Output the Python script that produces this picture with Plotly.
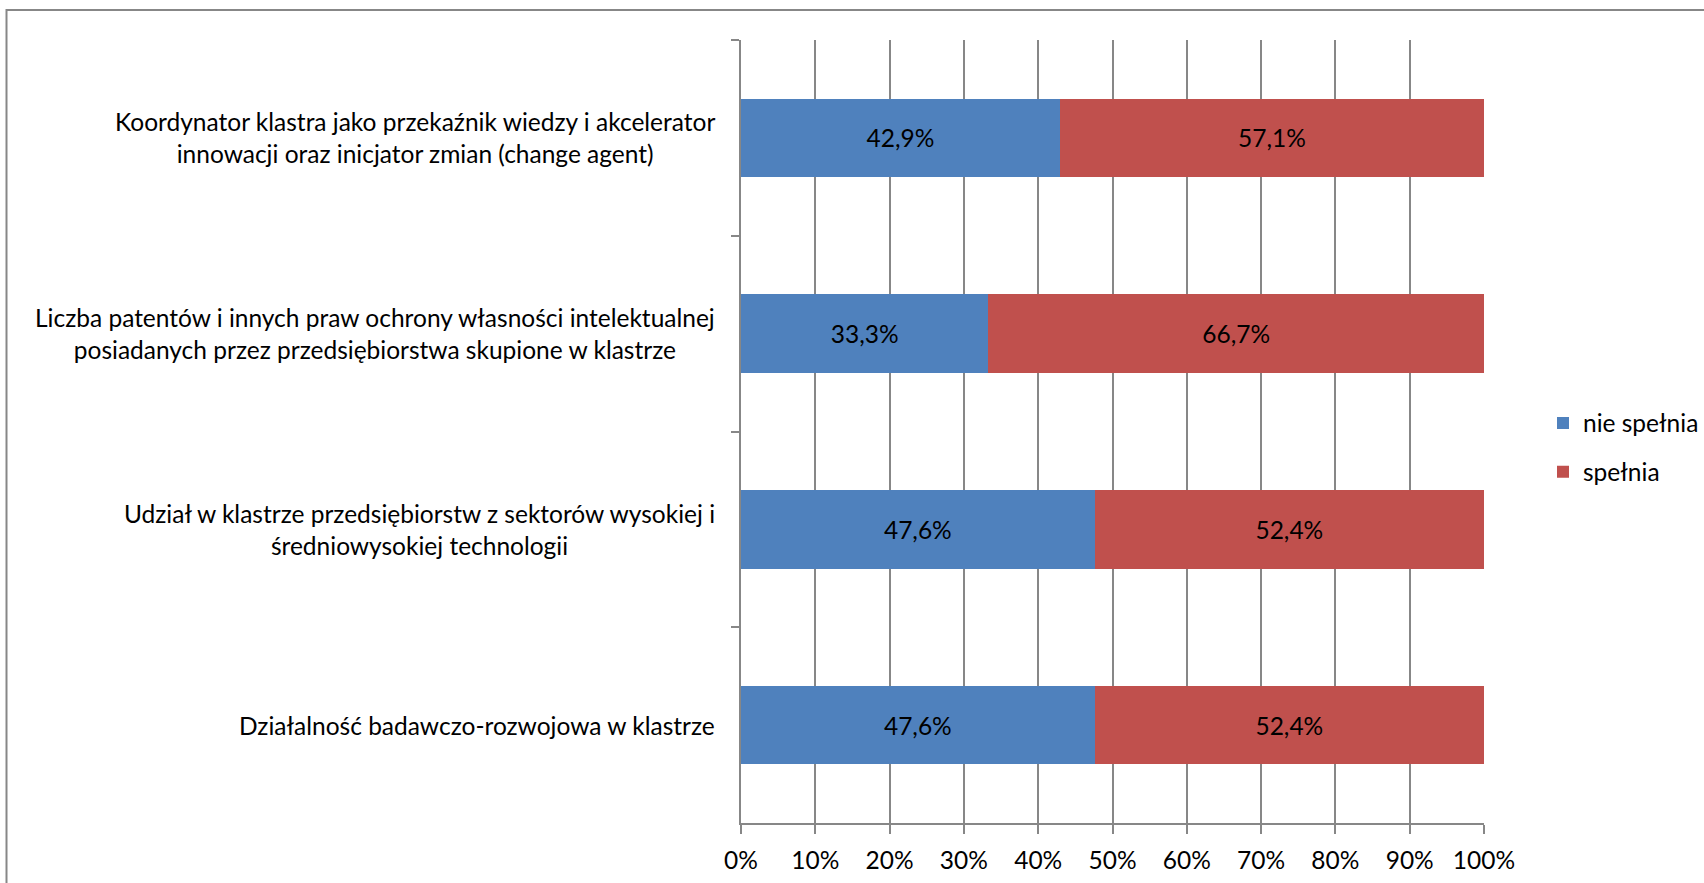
import plotly.graph_objects as go

# Kryteria (od góry do dołu) i udziały procentowe
categories = [
    "Koordynator klastra jako przekaźnik wiedzy i akcelerator<br>innowacji oraz inicjator zmian (change agent)",
    "Liczba patentów i innych praw ochrony własności intelektualnej<br>posiadanych przez przedsiębiorstwa skupione w klastrze",
    "Udział w klastrze przedsiębiorstw z sektorów wysokiej i<br>średniowysokiej technologii",
    "Działalność badawczo-rozwojowa w klastrze",
]
nie_spelnia = [42.9, 33.3, 47.6, 47.6]
spelnia = [57.1, 66.7, 52.4, 52.4]
x_ticks = [0, 10, 20, 30, 40, 50, 60, 70, 80, 90, 100]
x_tick_labels = ["0%", "10%", "20%", "30%", "40%", "50%", "60%", "70%", "80%", "90%", "100%"]

FONT = "Lato, 'Open Sans', sans-serif"
FS = 24.5
GRID = "#878787"

W, H = 1704, 883
L, R, T, B = 741, 220, 40, 60
PW, PH = W - L - R, H - T - B


def fmt(v):
    return f"{v:.1f}%".replace(".", ",")


fig = go.Figure()
fig.add_trace(go.Bar(
    y=categories, x=nie_spelnia, orientation="h", name="nie spełnia",
    marker=dict(color="#4F81BD", line=dict(width=0)),
    text=[fmt(v) for v in nie_spelnia], textposition="inside",
    insidetextanchor="middle", constraintext="none",
    textfont=dict(family=FONT, size=FS, color="#000000"),
    legendgroup="a", hoverinfo="skip",
))
fig.add_trace(go.Bar(
    y=categories, x=spelnia, orientation="h", name="spełnia",
    marker=dict(color="#C0504D", line=dict(width=0)),
    text=[fmt(v) for v in spelnia], textposition="inside",
    insidetextanchor="middle", constraintext="none",
    textfont=dict(family=FONT, size=FS, color="#000000"),
    legendgroup="b", hoverinfo="skip",
))

# Etykiety kategorii wyśrodkowane wierszami, wyrównane do osi
for c in categories:
    fig.add_annotation(
        x=0, xref="paper", y=c, yref="y", xanchor="right", yanchor="middle",
        xshift=-24, text=c, align="center", showarrow=False,
        font=dict(family=FONT, size=FS, color="#000000"),
    )

# Ramka obszaru wykresu
fig.add_shape(
    type="rect", xref="paper", yref="paper",
    x0=(6.5 - L) / PW, x1=(W + 20 - L) / PW,
    y0=(H - B - (H + 20)) / PH, y1=(H - B - 10) / PH,
    line=dict(color=GRID, width=2), fillcolor="rgba(0,0,0,0)", layer="below",
)

fig.update_layout(
    width=W, height=H, barmode="stack", bargap=0.6,
    margin=dict(l=L, r=R, t=T, b=B, pad=0, autoexpand=False),
    paper_bgcolor="white", plot_bgcolor="white",
    font=dict(family=FONT, size=FS, color="#000000"),
    showlegend=True,
    legend=dict(
        xref="container", yref="container",
        x=1543 / W, xanchor="left", y=1 - 400.5 / H, yanchor="top",
        traceorder="grouped", tracegroupgap=14, itemwidth=30,
        font=dict(family=FONT, size=FS, color="#000000"),
        bgcolor="rgba(0,0,0,0)",
    ),
    xaxis=dict(
        range=[0, 100], tickmode="array", tickvals=x_ticks, ticktext=x_tick_labels,
        showgrid=True, gridcolor=GRID, gridwidth=1.5,
        ticks="outside", ticklen=9, tickcolor=GRID, tickwidth=1.5,
        ticklabelstandoff=6,
        showline=True, linecolor=GRID, linewidth=1.5, zeroline=False,
        tickfont=dict(family=FONT, size=FS, color="#000000"),
        fixedrange=True,
    ),
    yaxis=dict(
        categoryorder="array", categoryarray=categories,
        range=[3.5, -0.5], showticklabels=False,
        tickson="boundaries", ticks="outside", ticklen=8,
        tickcolor=GRID, tickwidth=1.5,
        showline=True, linecolor=GRID, linewidth=1.5,
        showgrid=False, zeroline=False, fixedrange=True,
    ),
)

fig.write_html("out.html", config={"displayModeBar": False})
